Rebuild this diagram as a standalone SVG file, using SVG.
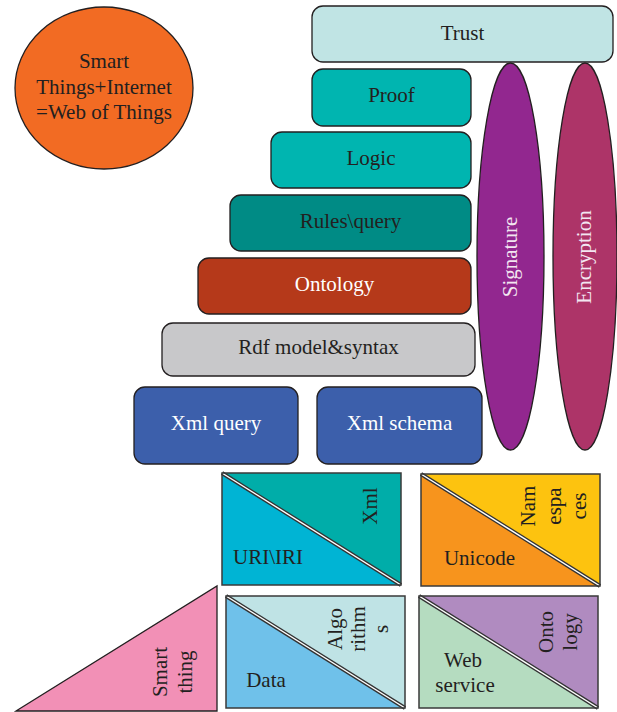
<svg xmlns="http://www.w3.org/2000/svg" width="617" height="712" viewBox="0 0 617 712">
<style>
text{font-family:"Liberation Serif","Times New Roman",serif;font-size:21px;fill:#231f20;text-anchor:middle}
.w{fill:#ffffff}
.sw{fill:#f3e6f1}
.box{stroke:#231f20;stroke-width:1.3}
.tri{stroke:none}
.frame{fill:none;stroke:#3a3a3a;stroke-width:1.5}
.dl1{stroke:#333333;stroke-width:4}
.dl2{stroke:#ffffff;stroke-width:1.4}
</style>
<rect width="617" height="712" fill="#ffffff"/>

<g id="web-of-things">
<ellipse cx="104" cy="88" rx="89" ry="81" fill="#f26b23" class="box"/>
<text x="104" y="68">Smart</text>
<text x="104" y="94">Things+Internet</text>
<text x="104" y="119">=Web of Things</text>
</g>

<g id="signature">
<ellipse cx="510.5" cy="256.5" rx="33.5" ry="193.5" fill="#92278f" class="box"/>
<text class="sw" transform="translate(510,257) rotate(-90)" y="7">Signature</text>
</g>
<g id="encryption">
<ellipse cx="585" cy="256.5" rx="32" ry="193.5" fill="#ad3468" class="box"/>
<text class="sw" transform="translate(583.5,257) rotate(-90)" y="7">Encryption</text>
</g>

<g id="trust">
<rect x="312" y="6" width="301" height="56" rx="11" fill="#c0e4e4" class="box"/>
<text x="462.5" y="40">Trust</text>
</g>
<g id="proof">
<rect x="312" y="69" width="159" height="57" rx="11" fill="#00b5b0" class="box"/>
<text x="391.5" y="102">Proof</text>
</g>
<g id="logic">
<rect x="271" y="132" width="200" height="56" rx="11" fill="#00b5b0" class="box"/>
<text x="371" y="165">Logic</text>
</g>
<g id="rules-query">
<rect x="230" y="195" width="241" height="56" rx="11" fill="#008b85" class="box"/>
<text x="350.5" y="228">Rules\query</text>
</g>
<g id="ontology">
<rect x="198" y="258" width="273" height="56" rx="11" fill="#b5391a" class="box"/>
<text class="w" x="334.5" y="291">Ontology</text>
</g>
<g id="rdf">
<rect x="162" y="323" width="313" height="53" rx="11" fill="#c8c8ca" class="box"/>
<text x="318.5" y="354">Rdf model&amp;syntax</text>
</g>
<g id="xml-query">
<rect x="134" y="387" width="164" height="77" rx="11" fill="#3c5fab" class="box"/>
<text class="w" x="216" y="430">Xml query</text>
</g>
<g id="xml-schema">
<rect x="317" y="387" width="165" height="77" rx="11" fill="#3c5fab" class="box"/>
<text class="w" x="399.5" y="430">Xml schema</text>
</g>

<g id="xml-uri">
<polygon class="tri" points="222,473 401,473 401,585" fill="#00ada9"/>
<polygon class="tri" points="222,473 401,585 222,585" fill="#00b4d4"/>
<line class="dl1" x1="222" y1="473" x2="401" y2="585"/>
<line class="dl2" x1="222" y1="473" x2="401" y2="585"/>
<rect class="frame" x="222" y="473" width="179" height="112"/>
<text transform="translate(370,506) rotate(-90)" y="7">Xml</text>
<text x="268" y="564">URI\IRI</text>
</g>

<g id="unicode-namespaces">
<polygon class="tri" points="421,474 600,474 600,586" fill="#fdc30f"/>
<polygon class="tri" points="421,474 600,586 421,586" fill="#f7941d"/>
<line class="dl1" x1="421" y1="474" x2="600" y2="586"/>
<line class="dl2" x1="421" y1="474" x2="600" y2="586"/>
<rect class="frame" x="421" y="474" width="179" height="112"/>
<g transform="translate(521,506) rotate(-90)">
<text y="14">Nam</text>
<text y="40">espa</text>
<text y="65">ces</text>
</g>
<text x="479.5" y="565">Unicode</text>
</g>

<g id="smart-thing">
<polygon points="16,711 217,586 217,711" fill="#f290b6" stroke="#231f20" stroke-width="1.3"/>
<g transform="translate(154,672) rotate(-90)">
<text y="13">Smart</text>
<text y="38">thing</text>
</g>
</g>

<g id="data-algorithms">
<polygon class="tri" points="226,596 405,596 405,708" fill="#bfe3e5"/>
<polygon class="tri" points="226,596 405,708 226,708" fill="#6fc1ea"/>
<line class="dl1" x1="226" y1="596" x2="405" y2="708"/>
<line class="dl2" x1="226" y1="596" x2="405" y2="708"/>
<rect class="frame" x="226" y="596" width="179" height="112"/>
<g transform="translate(329,629) rotate(-90)">
<text y="13">Algo</text>
<text y="36">rithm</text>
<text y="59">s</text>
</g>
<text x="266" y="687">Data</text>
</g>

<g id="web-service-ontology">
<polygon class="tri" points="419,596 598,596 598,708" fill="#b08bc0"/>
<polygon class="tri" points="419,596 598,708 419,708" fill="#b5dcc0"/>
<line class="dl1" x1="419" y1="596" x2="598" y2="708"/>
<line class="dl2" x1="419" y1="596" x2="598" y2="708"/>
<rect class="frame" x="419" y="596" width="179" height="112"/>
<g transform="translate(539,632) rotate(-90)">
<text y="14">Onto</text>
<text y="38">logy</text>
</g>
<text x="463" y="667">Web</text>
<text x="465" y="692">service</text>
</g>
</svg>
